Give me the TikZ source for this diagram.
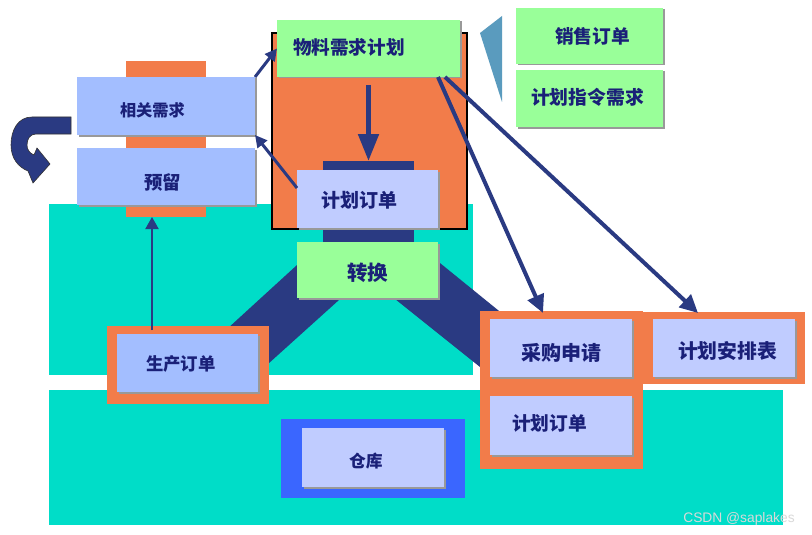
\documentclass[tikz,border=0pt]{standalone}
\usepackage{fontspec}
\newfontfamily\cjk{Noto Sans CJK SC}
\newfontfamily\wmfont{Liberation Sans}
\usetikzlibrary{arrows.meta,shadows}

\definecolor{teal0}{RGB}{0,221,200}
\definecolor{orng}{RGB}{242,124,74}
\definecolor{navy}{RGB}{42,58,130}
\definecolor{ink}{RGB}{26,32,120}
\definecolor{paleA}{RGB}{163,190,255}
\definecolor{paleB}{RGB}{192,204,255}
\definecolor{mint}{RGB}{153,255,153}
\definecolor{royal}{RGB}{58,102,255}
\definecolor{steel}{RGB}{90,155,190}

\begin{document}
\begin{tikzpicture}[x=1pt,y=-1pt,
  fs/.style={font=\cjk\bfseries\fontsize{#1}{#1}\selectfont},
  lift/.style={text height=#1, text depth=0pt},
  plate/.style={anchor=north west, inner sep=0pt, outer sep=0pt},
  card/.style={anchor=north west, inner ysep=0pt, outer sep=0pt, text=ink,
    drop shadow={shadow xshift=1.5pt, shadow yshift=-1.5pt, fill=black!40, opacity=1}},
  fat/.style={draw=navy, line width=5pt, -{Triangle[width=20pt,length=27pt]}},
  link/.style={draw=navy, line width=4pt, -{Triangle[width=17pt,length=18pt]}},
  thin/.style={draw=navy, line width=3pt, -{Triangle[width=12pt,length=12pt]}},
  hair/.style={draw=navy, line width=2pt, -{Triangle[width=13pt,length=12pt]}}]

\useasboundingbox (0,0) rectangle (812,535);
\fill[white] (0,0) rectangle (812,535);

% cyan floor bands
\fill[teal0] (49,204) rectangle (473,375);
\fill[teal0] (49,390) rectangle (783,525);

% backing plates
\node[plate, fill=orng, minimum width=80pt, minimum height=156pt] (ybar) at (126,61) {};
\node[plate, fill=orng, draw=black, line width=1.5pt, minimum width=195pt, minimum height=196pt] (mrpf) at (272,33) {};
\node[plate, fill=navy, minimum width=91pt, minimum height=82pt] (bar) at (323,161) {};

% the two arms below the conversion block
\fill[navy] (320,244) -- (380,263) -- (258,373) -- (215,340) -- cycle;
\fill[navy] (419,246) -- (355,267) -- (505,387) -- (520,328) -- cycle;

\node[plate, fill=orng, minimum width=162pt, minimum height=78pt] (scf) at (107,326) {};
\node[plate, fill=royal, minimum width=184pt, minimum height=79pt] (ckf) at (281,419) {};
\node[plate, fill=orng, minimum width=163pt, minimum height=158pt] (cgf) at (480,311) {};
\node[plate, fill=orng, minimum width=162pt, minimum height=72pt] (apf) at (643,312) {};

% cards
\node[card, fill=mint, fs=18.6, lift=11.1pt, minimum width=183pt, minimum height=57pt, text width=151pt, inner xsep=16pt, align=left] (mrp) at (277,20) {物料需求计划};
\node[card, fill=paleA, fs=16.2, lift=20.3pt, minimum width=178pt, minimum height=58pt, text width=92pt, inner xsep=43pt, align=left] (xg) at (77,77) {相关需求};
\node[card, fill=paleA, fs=18.4, lift=25pt, minimum width=178pt, minimum height=57pt, text width=44pt, inner xsep=67pt, align=left] (yl) at (77,148) {预留};
\node[card, fill=paleB, fs=19, lift=16.4pt, minimum width=141pt, minimum height=58pt, text width=93pt, inner xsep=24pt, align=left] (jh1) at (297,170) {计划订单};
\node[card, fill=mint, fs=20.5, lift=21.6pt, minimum width=141pt, minimum height=56pt, text width=141pt, inner xsep=0pt, align=center] (zh) at (297,242) {转换};
\node[card, fill=paleA, fs=17.4, lift=15.2pt, minimum width=141pt, minimum height=58pt, text width=83pt, inner xsep=29pt, align=left] (sc) at (117,334) {生产订单};
\node[card, fill=paleB, fs=16.8, lift=19.8pt, minimum width=142pt, minimum height=59pt, text width=48pt, inner xsep=47pt, align=left] (ck) at (302,428) {仓库};
\node[card, fill=paleB, fs=20, lift=25.2pt, minimum width=142pt, minimum height=58pt, text width=142pt, inner xsep=0pt, align=center] (cg) at (490,319) {采购申请};
\node[card, fill=paleB, fs=18.7, lift=9.2pt, minimum width=142pt, minimum height=59pt, text width=98pt, inner xsep=22pt, align=left] (jh2) at (490,396) {计划订单};
\node[card, fill=paleB, fs=19.8, lift=21pt, minimum width=142pt, minimum height=58pt, text width=106pt, inner xsep=18pt, align=right] (ap) at (653,319) {计划安排表};
\node[card, fill=mint, fs=18.7, lift=14.2pt, minimum width=147pt, minimum height=56pt, text width=81pt, inner xsep=33pt, align=right] (xs) at (516,8) {销售订单};
\node[card, fill=mint, fs=18.8, lift=11.3pt, minimum width=147pt, minimum height=57pt, text width=117pt, inner xsep=15pt, align=left] (zl) at (516,70) {计划指令需求};

% wedge pointing at the order sources
\fill[steel] (480,33) -- (502,16) -- (502,102) -- cycle;

% connectors
\draw[fat, shorten <=8pt] (mrp.south) -- (mrp.south |- bar.north);
\draw[thin] (xg.north east) -- (mrp.west);
\draw[thin] ([yshift=11pt]jh1.west) -- (xg.south east);
\draw[link] ([xshift=-22pt]mrp.south east) -- ([xshift=63pt,yshift=-2pt]cgf.north west);
\draw[link] ([xshift=-15pt]mrp.south east) -- ([xshift=55pt,yshift=-1pt]apf.north west);
\draw[hair] ([xshift=35pt,yshift=4pt]sc.north west) -- ([xshift=35pt]sc.north west |- ybar.south);

% U-turn arrow on the left
\filldraw[fill=navy, draw=black!80, line width=0.6pt]
  (71,117) -- (32,117) .. controls (18,117) and (11,130) .. (11,145)
  .. controls (11,158) and (18,167) .. (28,171) -- (33,183) -- (50,164) -- (37,148)
  -- (34,155) .. controls (29,153) and (27,149) .. (27,145)
  .. controls (27,139) and (30,134) .. (36,134) -- (71,134) -- cycle;

% watermark
\node[text=white!85!black, font=\wmfont\fontsize{13.8}{14}\selectfont, inner sep=0pt] (wm) at (739,519) {CSDN @saplakes};
\end{tikzpicture}
\end{document}
